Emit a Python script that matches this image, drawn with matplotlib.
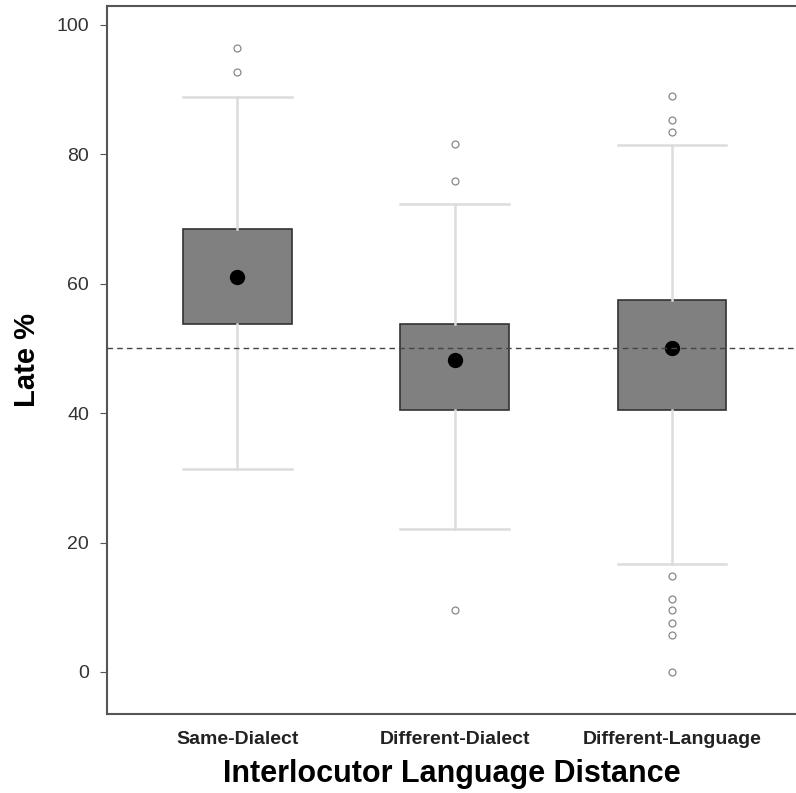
import matplotlib.pyplot as plt

plt.rcParams['font.family'] = ['Liberation Sans', 'DejaVu Sans']

groups = ['Same-Dialect', 'Different-Dialect', 'Different-Language']
q1 = [53.7, 40.5, 40.5]
q3 = [68.4, 53.7, 57.5]
means = [61.1, 48.2, 50.0]
whislo = [31.4, 22.1, 16.7]
whishi = [88.9, 72.3, 81.5]
outliers = [
    [92.7, 96.4],
    [75.9, 81.6, 9.5],
    [83.4, 85.3, 89.0, 14.9, 11.2, 9.5, 7.5, 5.7, 0.0],
]

stats = []
for i in range(len(groups)):
    stats.append({'label': groups[i], 'q1': q1[i], 'q3': q3[i], 'med': means[i],
                  'mean': means[i], 'whislo': whislo[i], 'whishi': whishi[i],
                  'fliers': outliers[i]})

fig = plt.figure(figsize=(7.96, 7.93), dpi=100)
ax = fig.add_axes([0.1344, 0.0996, 0.8656, 0.8928])

ax.bxp(stats, positions=[1, 2, 3], widths=0.5, capwidths=0.5, showmeans=True,
       patch_artist=True,
       boxprops=dict(facecolor='#808080', edgecolor='#333333', linewidth=1.2),
       whiskerprops=dict(color='#dcdcdc', linewidth=1.8),
       capprops=dict(color='#dcdcdc', linewidth=1.8),
       medianprops=dict(linewidth=0),
       meanprops=dict(marker='o', markerfacecolor='black', markeredgecolor='black', markersize=10),
       flierprops=dict(marker='o', markerfacecolor='none', markeredgecolor='#888888',
                       markersize=5, markeredgewidth=0.9))

ax.axhline(50, color='#444444', linestyle='--', linewidth=1, dashes=(4, 3), zorder=5)

ax.set_xlim(0.40, 3.57)
ax.set_ylim(-6.5, 102.9)
ax.set_yticks([0, 20, 40, 60, 80, 100])
ax.tick_params(axis='y', labelsize=14, length=5, pad=8, color='#555555', labelcolor='#333333')
ax.tick_params(axis='x', length=0, labelsize=14, pad=12)
for t in ax.get_xticklabels():
    t.set_fontweight('bold')
    t.set_color('#222222')

for s in ['left', 'bottom', 'top']:
    ax.spines[s].set_color('#555555')
    ax.spines[s].set_linewidth(1.5)
ax.spines['right'].set_visible(False)

ax.set_xlabel('Interlocutor Language Distance', fontsize=22, fontweight='bold', labelpad=8)
ax.set_ylabel('Late %', fontsize=21, fontweight='bold', labelpad=11)

fig.savefig('out.png', dpi=100)
